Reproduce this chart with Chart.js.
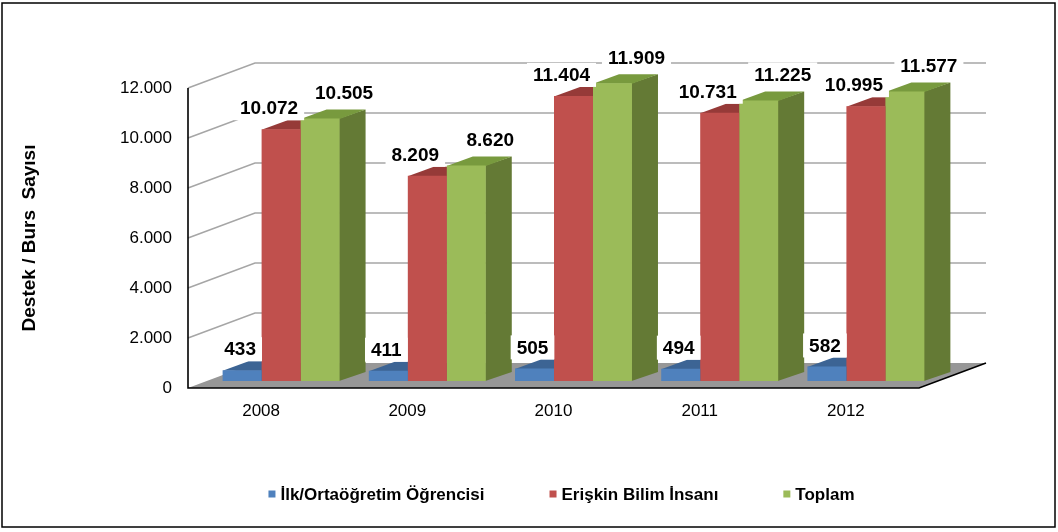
<!DOCTYPE html>
<html><head><meta charset="utf-8">
<script src="https://cdn.jsdelivr.net/npm/chart.js@4/dist/chart.umd.min.js"></script>
<style>html,body{margin:0;padding:0;background:#fff}#wrap{width:1058px;height:532px;position:relative}canvas{display:block}</style>
</head><body><div id="wrap"><canvas id="c" width="1058" height="532"></canvas></div>
<script>
const categories = ['2008', '2009', '2010', '2011', '2012'];
const seriesNames = ['İlk/Ortaöğretim Öğrencisi', 'Erişkin Bilim İnsanı', 'Toplam'];
const ilkOrtaOgretim = [433, 411, 505, 494, 582];
const eriskinBilim = [10072, 8209, 11404, 10731, 10995];
const toplam = [10505, 8620, 11909, 11225, 11577];
const yTickValues = [0, 2000, 4000, 6000, 8000, 10000, 12000];
const yTitle = 'Destek / Burs  Sayısı';

const FONT = "'Liberation Sans', Arial, sans-serif";
const frontColors = ['#4F81BD', '#C0504D', '#9BBB59'];
const topColors = ['#3C6494', '#963A38', '#789A3E'];
const sideColors = ['#355A86', '#8A3633', '#647A35'];
const labelDX = [-2, -12, 24];
const labelDY = [-21, -21, -26];

const WALL_DX = 67, WALL_DY = -25;
const SHIFT_X = 20, SHIFT_Y = -7;
const BAR_DX = 26, BAR_DY = -9;

function fmt(v) { return String(v).replace(/\B(?=(\d{3})+(?!\d))/g, '.'); }

const threeD = {
  id: 'threeD',
  beforeDatasetsDraw(chart) {
    const ctx = chart.ctx, a = chart.chartArea, ys = chart.scales.y;
    const y0 = ys.getPixelForValue(0);
    ctx.save();
    ctx.fillStyle = '#979797';
    ctx.beginPath();
    ctx.moveTo(a.left, y0); ctx.lineTo(a.right, y0);
    ctx.lineTo(a.right + WALL_DX, y0 + WALL_DY); ctx.lineTo(a.left + WALL_DX, y0 + WALL_DY);
    ctx.closePath(); ctx.fill();
    ctx.strokeStyle = '#a6a6a6'; ctx.lineWidth = 1.6;
    yTickValues.forEach(v => {
      if (v === 0) return;
      const py = ys.getPixelForValue(v);
      ctx.beginPath();
      ctx.moveTo(a.left, py);
      ctx.lineTo(a.left + WALL_DX, py + WALL_DY);
      ctx.lineTo(a.right + WALL_DX, py + WALL_DY);
      ctx.stroke();
    });
    ctx.strokeStyle = '#000'; ctx.lineWidth = 1.6;
    ctx.beginPath();
    ctx.moveTo(a.left, a.top); ctx.lineTo(a.left, y0); ctx.lineTo(a.right, y0);
    ctx.lineTo(a.right + WALL_DX, y0 + WALL_DY);
    ctx.stroke();
    ctx.restore();

    ctx.save();
    ctx.translate(SHIFT_X, SHIFT_Y);
    chart.data.datasets.forEach((ds, i) => {
      const meta = chart.getDatasetMeta(i);
      meta.data.forEach(el => {
        const p = el.getProps(['x', 'y', 'base', 'width'], true);
        const l = p.x - p.width / 2, r = p.x + p.width / 2;
        ctx.fillStyle = sideColors[i];
        ctx.beginPath();
        ctx.moveTo(r - 0.5, p.y); ctx.lineTo(r + BAR_DX, p.y + BAR_DY);
        ctx.lineTo(r + BAR_DX, p.base + BAR_DY); ctx.lineTo(r - 0.5, p.base);
        ctx.closePath(); ctx.fill();
        ctx.fillStyle = topColors[i];
        ctx.beginPath();
        ctx.moveTo(l, p.y + 0.5); ctx.lineTo(r, p.y + 0.5);
        ctx.lineTo(r + BAR_DX, p.y + BAR_DY); ctx.lineTo(l + BAR_DX, p.y + BAR_DY);
        ctx.closePath(); ctx.fill();
      });
    });
  },
  afterDatasetsDraw(chart) {
    const ctx = chart.ctx;
    ctx.restore();
    ctx.save();
    ctx.font = 'bold 19px ' + FONT;
    ctx.textAlign = 'center'; ctx.textBaseline = 'middle';
    chart.data.datasets.forEach((ds, i) => {
      const meta = chart.getDatasetMeta(i);
      meta.data.forEach((el, j) => {
        const p = el.getProps(['x', 'y'], true);
        const txt = fmt(ds.data[j]);
        const cx = p.x + SHIFT_X + labelDX[i];
        const cy = p.y + SHIFT_Y + labelDY[i];
        const w = ctx.measureText(txt).width;
        ctx.fillStyle = '#fff';
        ctx.fillRect(cx - w / 2 - 6, cy - 12, w + 12, 24);
        ctx.fillStyle = '#000';
        ctx.fillText(txt, cx, cy + 1);
      });
    });
    ctx.restore();
  },
  afterDraw(chart) {
    const ctx = chart.ctx;
    ctx.save();
    ctx.font = 'bold 17px ' + FONT;
    ctx.textBaseline = 'middle'; ctx.textAlign = 'left';
    const box = 7, gapText = 5, gapItem = 65, cyL = 494;
    const widths = seriesNames.map(n => ctx.measureText(n).width);
    const total = widths.reduce((s, w) => s + box + gapText + w, 0) + gapItem * (seriesNames.length - 1);
    let x = 561.5 - total / 2;
    seriesNames.forEach((n, i) => {
      ctx.fillStyle = frontColors[i];
      ctx.fillRect(x, cyL - 3.5, box, box);
      ctx.fillStyle = '#000';
      ctx.fillText(n, x + box + gapText, cyL + 1);
      x += box + gapText + widths[i] + gapItem;
    });
    ctx.strokeStyle = '#000'; ctx.lineWidth = 1.5;
    ctx.strokeRect(2, 3, 1053, 524);
    ctx.restore();
  }
};

new Chart(document.getElementById('c'), {
  type: 'bar',
  data: {
    labels: categories,
    datasets: [
      { label: seriesNames[0], data: ilkOrtaOgretim, backgroundColor: frontColors[0], clip: false },
      { label: seriesNames[1], data: eriskinBilim, backgroundColor: frontColors[1], clip: false },
      { label: seriesNames[2], data: toplam, backgroundColor: frontColors[2], clip: false }
    ]
  },
  options: {
    responsive: false,
    devicePixelRatio: 1,
    animation: false,
    layout: { padding: { left: 0, top: 88, right: 139, bottom: 0 } },
    datasets: { bar: { categoryPercentage: 0.8, barPercentage: 1.0 } },
    plugins: { legend: { display: false }, tooltip: { enabled: false } },
    scales: {
      x: {
        grid: { display: false, drawTicks: false },
        border: { display: false },
        ticks: { color: '#000', font: { family: FONT, size: 17 }, padding: 13 },
        afterFit(s) { s.height = 144; }
      },
      y: {
        min: 0, max: 12000,
        grid: { display: false, drawTicks: false },
        border: { display: false },
        afterBuildTicks(s) { s.ticks = yTickValues.map(v => ({ value: v })); },
        ticks: { color: '#000', font: { family: FONT, size: 17 }, padding: 16, callback: v => fmt(v) },
        title: { display: true, text: yTitle, color: '#000', font: { family: FONT, size: 19, weight: 'bold' }, padding: { top: 18, bottom: 0 } },
        afterFit(s) { s.width = 188; }
      }
    }
  },
  plugins: [threeD]
});
</script>
</body></html>
